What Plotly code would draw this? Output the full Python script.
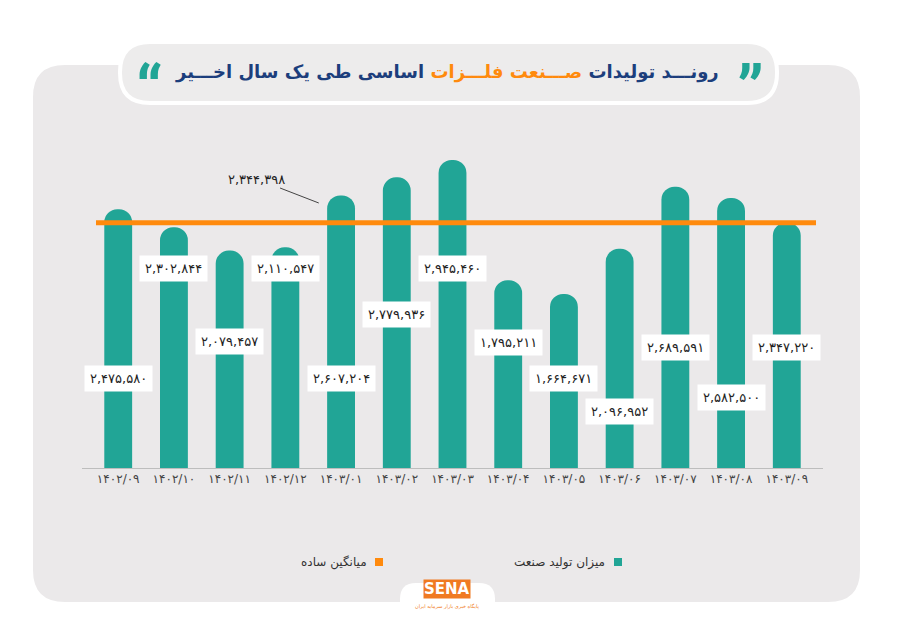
import plotly.graph_objects as go

# داده‌ها
months = ["۱۴۰۲/۰۹", "۱۴۰۲/۱۰", "۱۴۰۲/۱۱", "۱۴۰۲/۱۲", "۱۴۰۳/۰۱", "۱۴۰۳/۰۲", "۱۴۰۳/۰۳",
          "۱۴۰۳/۰۴", "۱۴۰۳/۰۵", "۱۴۰۳/۰۶", "۱۴۰۳/۰۷", "۱۴۰۳/۰۸", "۱۴۰۳/۰۹"]
production = [2475580, 2302844, 2079457, 2110547, 2607204, 2779936, 2945460,
              1795211, 1664671, 2096952, 2689591, 2582500, 2347220]
average = round(sum(production) / len(production))

# ارتفاع برچسب‌ها روی ستون‌ها (سبک نمایش)
label_y = [860000, 1910000, 1210000, 1910000, 860000, 1470000, 1910000,
           1200000, 860000, 540000, 1150000, 670000, 1150000]

TEAL = "#21A596"
ORANGE = "#FF8A0D"
NAVY = "#1C3E7C"
PANEL = "#EBE9EA"
FONT = "DejaVu Sans"

W, H = 900, 636
L, R, T, B = 82, 77, 140, 168
PW = W - L - R
PH = H - T - B


def fa(n):
    return f"{n:,}".translate(str.maketrans("0123456789", "۰۱۲۳۴۵۶۷۸۹"))


def px(x):
    return (x - L) / PW


def py(y):
    return (H - B - y) / PH


def rrect(x0, y0, x1, y1, r):
    return (f"M {px(x0 + r)},{py(y0)} L {px(x1 - r)},{py(y0)} "
            f"Q {px(x1)},{py(y0)} {px(x1)},{py(y0 + r)} L {px(x1)},{py(y1 - r)} "
            f"Q {px(x1)},{py(y1)} {px(x1 - r)},{py(y1)} L {px(x0 + r)},{py(y1)} "
            f"Q {px(x0)},{py(y1)} {px(x0)},{py(y1 - r)} L {px(x0)},{py(y0 + r)} "
            f"Q {px(x0)},{py(y0)} {px(x0 + r)},{py(y0)} Z")


fig = go.Figure(go.Bar(
    x=months,
    y=production,
    width=0.5,
    marker=dict(color=TEAL, cornerradius="50%", line=dict(width=0)),
    hoverinfo="x+y",
))

# خط میانگین
fig.add_hline(y=average, x0=px(96), x1=px(816), line=dict(color=ORANGE, width=5))

shapes = [
    # پنل خاکستری
    dict(type="path", path=rrect(33, 65, 860, 602, 32), xref="paper", yref="paper",
         fillcolor=PANEL, line=dict(width=0), layer="below"),
    # قاب عنوان
    dict(type="path", path=rrect(120, 42, 777, 103, 30), xref="paper", yref="paper",
         fillcolor="#EDECEC", line=dict(color="white", width=4), layer="below"),
    # برآمدگی لوگو
    dict(type="path", path=rrect(400, 583, 495, 660, 16), xref="paper", yref="paper",
         fillcolor="white", line=dict(width=0), layer="below"),
    # مربع‌های راهنما
    dict(type="rect", xref="paper", yref="paper", x0=px(614), x1=px(622), y0=py(566), y1=py(558),
         fillcolor=TEAL, line=dict(width=0)),
    dict(type="rect", xref="paper", yref="paper", x0=px(375), x1=px(383), y0=py(566), y1=py(558),
         fillcolor=ORANGE, line=dict(width=0)),
]
for s in shapes:
    fig.add_shape(**s)

annotations = []
for m, v, ly in zip(months, production, label_y):
    annotations.append(dict(x=m, y=ly, text=fa(v), showarrow=False,
                            font=dict(family=FONT, size=13, color="#222222"),
                            bgcolor="white", borderpad=5))

# برچسب میانگین
annotations.append(dict(x=3.6, y=average + 190000, text=fa(average), showarrow=True,
                        arrowhead=0, arrowwidth=1, arrowcolor="#444444", ax=-62, ay=-24,
                        font=dict(family=FONT, size=13, color="#222222")))

# عنوان
title = ("<b>رونـــد تولیدات <span style='color:%s'>صـــنعت فلـــزات</span> "
         "اساسی طی یک سال اخـــیر</b>") % ORANGE
annotations += [
    dict(xref="paper", yref="paper", x=px(447), y=py(59), text=title, showarrow=False,
         font=dict(family=FONT, size=18, color=NAVY)),
    dict(xref="paper", yref="paper", x=px(766), y=py(50), text="<b>”</b>", showarrow=False,
         font=dict(family="Roboto", size=66, color=TEAL)),
    dict(xref="paper", yref="paper", x=px(134), y=py(50), text="<b>“</b>", showarrow=False,
         font=dict(family="Roboto", size=66, color=TEAL)),
    # راهنما
    dict(xref="paper", yref="paper", x=px(607), y=py(562), xanchor="right", yanchor="middle",
         text="میزان تولید صنعت", showarrow=False,
         font=dict(family=FONT, size=12, color="#333333")),
    dict(xref="paper", yref="paper", x=px(369), y=py(562), xanchor="right", yanchor="middle",
         text="میانگین ساده", showarrow=False,
         font=dict(family=FONT, size=12, color="#333333")),
    # لوگو
    dict(xref="paper", yref="paper", x=px(447), y=py(599), text="<b>SENA</b>", showarrow=False,
         font=dict(family=FONT, size=15, color="white"), bgcolor="#F07A22", borderpad=0),
    dict(xref="paper", yref="paper", x=px(447), y=py(612), text="پایگاه خبری بازار سرمایه ایران",
         showarrow=False, font=dict(family=FONT, size=5, color="#F07A22")),
]

fig.update_layout(
    width=W, height=H,
    margin=dict(l=L, r=R, t=T, b=B),
    paper_bgcolor="white",
    plot_bgcolor="rgba(0,0,0,0)",
    showlegend=False,
    bargap=0.5,
    font=dict(family=FONT),
    annotations=annotations,
    xaxis=dict(
        range=[-0.65, 12.65],
        showline=True, linecolor="#BDBDBD", linewidth=1,
        showgrid=False, zeroline=False, ticks="",
        tickfont=dict(family=FONT, size=12, color="#444444"),
        fixedrange=True,
    ),
    yaxis=dict(
        range=[0, 3137000],
        visible=False, showgrid=False, zeroline=False,
        fixedrange=True,
    ),
)

# حذف حاشیه پیش‌فرض صفحه
fig.write_html("out.html", config={"displayModeBar": False},
               post_script="document.body.style.margin='0';")
